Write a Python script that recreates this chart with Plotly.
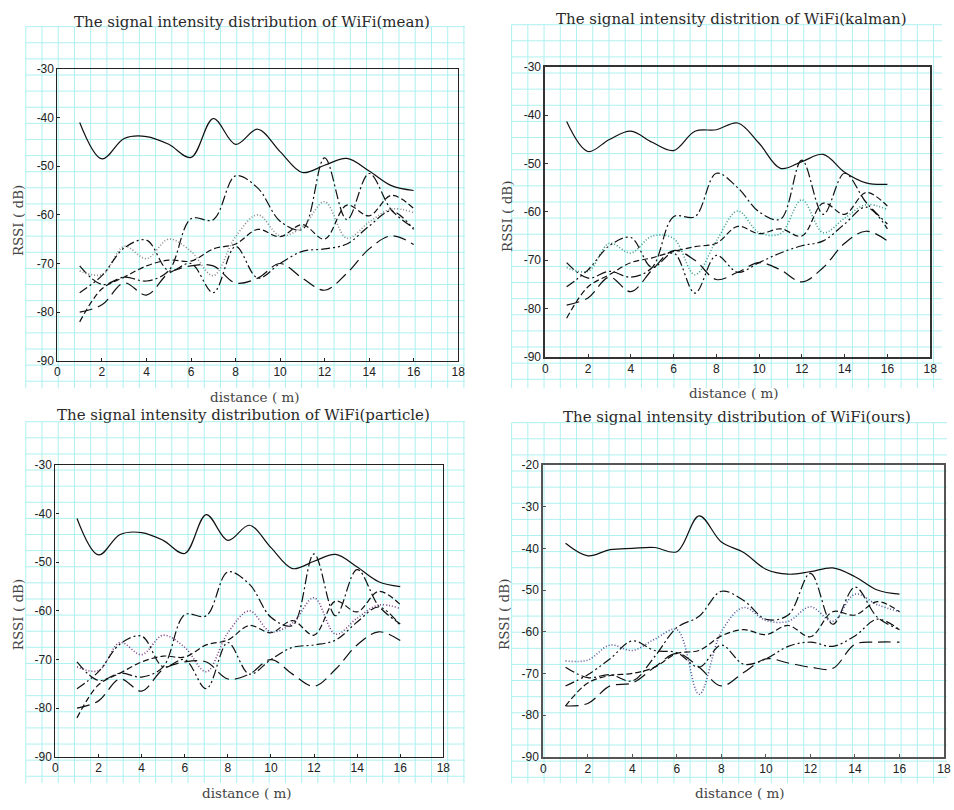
import plotly.graph_objects as go

W, H = 954, 810

distance_m = list(range(1, 17))

# RSSI series per filtering method; order: AP1..AP6
rssi_mean = [
    [-41, -48.5, -44.3, -43.9, -45.5, -48.2, -40.2, -45.5, -42.4, -47, -51.3, -49.8, -48.4, -51, -54, -55],
    [-70.5, -74.3, -72.8, -73.6, -71.5, -60.8, -61, -52, -54.5, -61.3, -63, -48.3, -61, -51.5, -59, -62.7],
    [-71.5, -72.3, -66.5, -69, -65, -67.5, -72.5, -64.5, -60, -64.3, -62.5, -57.3, -64.8, -61.5, -58.8, -59.5],
    [-82, -75.2, -72.8, -70.5, -69.3, -69.5, -67, -66, -63, -64.5, -62, -65, -58, -60.2, -56, -58.7],
    [-76, -72.5, -66.8, -65.2, -71.5, -70, -76, -66.5, -73, -70, -67.5, -67, -66, -62.3, -59.2, -63],
    [-80, -78.5, -74, -76.5, -72, -70.5, -70.5, -74, -73, -70, -73, -75.5, -72, -67, -64.3, -66.1],
]

rssi_kalman = [
    [-41.3, -47.5, -45, -43.3, -45.6, -47.3, -43.3, -43, -41.6, -45.8, -51, -49.6, -48.1, -51.8, -54, -54.3],
    [-70.5, -73.7, -72.3, -73.5, -71.5, -61, -61, -52, -55, -60, -61.5, -49.3, -60.5, -52, -58, -62.5],
    [-71.5, -72.3, -66.5, -68.5, -65, -65.5, -73, -66, -59.8, -64.3, -64.5, -57.5, -64.3, -61.3, -58.5, -59.5],
    [-82, -75.5, -73, -70.5, -69.5, -68.2, -67.2, -66.5, -63, -64.5, -63.5, -65, -58.2, -60.5, -56, -58.8],
    [-75.5, -72, -67, -65.3, -71.5, -68.5, -76.8, -69, -72.5, -70.5, -68.5, -67, -66, -62.5, -59, -63.5],
    [-79.3, -77.8, -73.5, -76.5, -72, -68, -70, -74, -72.5, -70.5, -72, -74.5, -71.5, -66.5, -64, -66],
]

rssi_particle = [
    [-41, -48.5, -44.3, -43.9, -45.5, -48.2, -40.2, -45.5, -42.4, -47, -51.3, -49.8, -48.4, -51, -54, -55],
    [-70.5, -74.3, -72.8, -73.6, -71.5, -60.8, -61, -52, -54.5, -61.3, -63, -48.3, -61, -51.5, -59, -62.7],
    [-71.5, -72.3, -66.5, -69, -65, -67.5, -72.5, -64.5, -60, -64.3, -62.5, -57.3, -64.8, -61.5, -58.8, -59.5],
    [-82, -75.2, -72.8, -70.5, -69.3, -69.5, -67, -66, -63, -64.5, -62, -65, -58, -60.2, -56, -58.7],
    [-76, -72.5, -66.8, -65.2, -71.5, -70, -76, -66.5, -73, -70, -67.5, -67, -66, -62.3, -59.2, -63],
    [-80, -78.5, -74, -76.5, -72, -70.5, -70.5, -74, -73, -70, -73, -75.5, -72, -67, -64.3, -66.1],
]

rssi_ours = [
    [-38.8, -41.8, -40.3, -40, -39.8, -40.8, -32.2, -38.5, -41, -45, -46.2, -45.6, -44.7, -46.8, -50, -51],
    [-68.5, -71, -70.3, -71.8, -66, -59, -56.3, -50.3, -52.5, -57, -56, -46, -58.2, -49.3, -56.5, -59.5],
    [-67, -66.8, -63.2, -64.5, -61.8, -59.5, -75, -60, -54.2, -57.3, -57.5, -54, -57.5, -51, -53.5, -55.2],
    [-77.8, -72.3, -70.5, -70, -68.5, -65.2, -64.5, -61, -59.5, -60.7, -58.5, -61.2, -55.2, -56, -52.8, -55.2],
    [-73, -70.3, -66.5, -62.2, -64.5, -65, -68.5, -63.2, -67.8, -66.5, -63.5, -62.5, -63.5, -61, -57, -59.5],
    [-77.8, -77.2, -73, -72.3, -68.5, -65.2, -68.5, -73, -69.8, -66.5, -67.5, -68.5, -68.8, -63, -62.5, -62.5],
]

x_ticks = [0, 2, 4, 6, 8, 10, 12, 14, 16, 18]
y_ticks_30 = [-90, -80, -70, -60, -50, -40, -30]
y_ticks_20 = [-90, -80, -70, -60, -50, -40, -30, -20]

# dash style for each AP series
dash_styles = [
    "solid",
    "10px,3px,2px,3px",
    "1px,2px",
    "6px,3px",
    "9px,3px,2px,3px,2px,3px",
    "13px,6px",
]

panels = [
    dict(title="The signal intensity distribution of WiFi(mean)", data=rssi_mean,
         dot_color="#8a8a8a", yticks=y_ticks_30, frame=("#222222", 1.1),
         plot=(55, 460, 63, 360), grid=(23, 467, 20, 388),
         title_xy=(252, 15), ylab_xy=(15, 217), xlab_xy=(255, 397)),
    dict(title="The signal intensity distrition of WiFi(kalman)", data=rssi_kalman,
         dot_color="#3f9c8c", yticks=y_ticks_30, frame=("#333333", 1.6),
         plot=(548, 937, 61, 356), grid=(514, 949, 18, 388),
         title_xy=(736, 12), ylab_xy=(510, 213), xlab_xy=(739, 393)),
    dict(title="The signal intensity distribution of WiFi(particle)", data=rssi_particle,
         dot_color="#7d3f80", yticks=y_ticks_30, frame=("#222222", 1.3),
         plot=(53, 445, 466, 763), grid=(23, 467, 422, 790),
         title_xy=(243, 415), ylab_xy=(15, 618), xlab_xy=(247, 800)),
    dict(title="The signal intensity distribution of WiFi(ours)", data=rssi_ours,
         dot_color="#55559a", yticks=y_ticks_20, frame=("#555555", 2),
         plot=(546, 951, 466, 763), grid=(514, 954, 423, 790),
         title_xy=(742, 417), ylab_xy=(507, 618), xlab_xy=(745, 800)),
]


def px_x(v):
    return v / W


def px_y(v):
    return 1 - v / H


fig = go.Figure()
shapes = []
annotations = []
GRID_STEP = 16.4
GRID_COLOR = "#aef0f0"
SERIF = "DejaVu Serif"

for i, p in enumerate(panels):
    sfx = "" if i == 0 else str(i + 1)
    xa, ya = "x" + sfx, "y" + sfx

    for k, series in enumerate(p["data"]):
        color = p["dot_color"] if k == 2 else "#111111"
        fig.add_trace(go.Scatter(
            x=distance_m, y=series, mode="lines", xaxis=xa, yaxis=ya,
            showlegend=False, hoverinfo="skip",
            line=dict(shape="spline", smoothing=1.0, color=color,
                      width=1.6 if k == 2 else 1.2, dash=dash_styles[k]),
        ))

    x0, x1, y0, y1 = p["plot"]
    fcol, fw = p["frame"]
    axis_common = dict(
        showgrid=False, zeroline=False, showline=True, mirror=True,
        linecolor=fcol, linewidth=fw, ticks="inside", ticklen=3,
        tickcolor=fcol, tickfont=dict(family="Liberation Sans", size=12, color="#222222"),
    )
    fig.layout["xaxis" + sfx] = dict(
        axis_common, domain=[px_x(x0), px_x(x1)], range=[0, 18],
        tickvals=x_ticks, ticktext=[str(v) for v in x_ticks], anchor=ya,
    )
    yt = p["yticks"]
    fig.layout["yaxis" + sfx] = dict(
        axis_common, domain=[px_y(y1), px_y(y0)], range=[yt[0], yt[-1]],
        tickvals=yt, ticktext=[str(v) for v in yt], anchor=xa,
    )

    # graph-paper background around the plotting area
    gx0, gx1, gy0, gy1 = p["grid"]
    gx = gx0
    while gx <= gx1:
        shapes.append(dict(type="line", xref="paper", yref="paper", layer="below",
                           x0=px_x(gx), x1=px_x(gx), y0=px_y(gy0), y1=px_y(gy1),
                           line=dict(color=GRID_COLOR, width=1)))
        gx += GRID_STEP
    gy = gy0
    while gy <= gy1:
        shapes.append(dict(type="line", xref="paper", yref="paper", layer="below",
                           x0=px_x(gx0), x1=px_x(gx1), y0=px_y(gy), y1=px_y(gy),
                           line=dict(color=GRID_COLOR, width=1)))
        gy += GRID_STEP

    tx, ty = p["title_xy"]
    annotations.append(dict(text=p["title"], x=px_x(tx), y=px_y(ty), xref="paper", yref="paper",
                            showarrow=False, xanchor="center", yanchor="middle",
                            font=dict(family=SERIF, size=15, color="#2a2a2a")))
    lx, ly = p["ylab_xy"]
    annotations.append(dict(text="RSSI ( dB)", x=px_x(lx), y=px_y(ly), xref="paper", yref="paper",
                            showarrow=False, textangle=-90, xanchor="center", yanchor="middle",
                            font=dict(family=SERIF, size=13.5, color="#444444")))
    bx, by = p["xlab_xy"]
    annotations.append(dict(text="distance ( m)", x=px_x(bx), y=px_y(by), xref="paper", yref="paper",
                            showarrow=False, xanchor="center", yanchor="middle",
                            font=dict(family=SERIF, size=13.5, color="#444444")))

fig.update_layout(
    width=W, height=H, margin=dict(l=0, r=0, t=0, b=0),
    paper_bgcolor="white", plot_bgcolor="white",
    shapes=shapes, annotations=annotations,
)

fig.write_html("out.html")
